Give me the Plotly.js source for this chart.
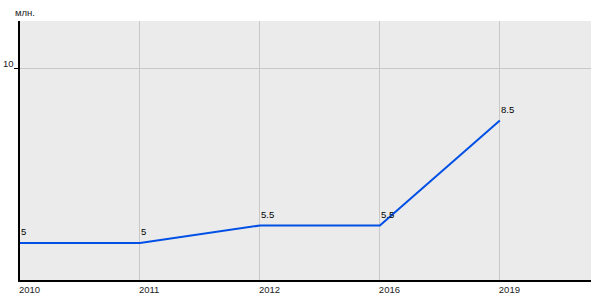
<!DOCTYPE html>
<html>
<head>
<meta charset="utf-8">
<script src="https://cdn.plot.ly/plotly-3.0.1.min.js"></script>
<style>html,body{margin:0;padding:0;background:#fff;}#chart{width:600px;height:300px;}</style>
</head>
<body>
<div id="chart"></div>
<script>
const years = ["2010", "2011", "2012", "2016", "2019"];
const values = [5, 5, 5.5, 5.5, 8.5];
const valueLabels = ["5", "5", "5.5", "5.5", "8.5"];
const yTickVals = [10];
const yTickText = ["10"];
const unitLabel = "млн.";

const FONT = "Liberation Sans, Arial, sans-serif";

const trace = {
  x: years,
  y: values,
  type: "scatter",
  mode: "lines",
  line: {color: "#0050e6", width: 2},
  hoverinfo: "skip"
};

const labelAnnotations = values.map((v, i) => ({
  x: i, y: v,
  xref: "x", yref: "y",
  text: valueLabels[i],
  xanchor: "left", yanchor: "bottom",
  xshift: -1, yshift: 4,
  showarrow: false,
  font: {family: FONT, size: 9.5, color: "#000"}
}));

const yTickAnnotations = yTickVals.map((v, i) => ({
  x: 0, y: v,
  xref: "paper", yref: "y",
  text: yTickText[i],
  xanchor: "right", yanchor: "bottom",
  xshift: -4, yshift: -3,
  showarrow: false,
  font: {family: FONT, size: 9.5, color: "#222"}
}));

const layout = {
  width: 600,
  height: 300,
  margin: {l: 20, r: 9, t: 21, b: 20},
  paper_bgcolor: "#ffffff",
  plot_bgcolor: "#ebebeb",
  showlegend: false,
  font: {family: FONT, size: 9.5, color: "#222"},
  xaxis: {
    type: "category",
    range: [0, 4.76],
    showgrid: true,
    gridcolor: "#c8c8c8",
    gridwidth: 1,
    showline: true,
    linecolor: "#000",
    linewidth: 2,
    ticks: "",
    ticklabelposition: "outside right",
    ticklabelshift: -2,
    tickfont: {size: 9.5, color: "#222"},
    zeroline: false,
    fixedrange: true
  },
  yaxis: {
    range: [3.943, 11.343],
    tickvals: yTickVals,
    ticktext: yTickText,
    showticklabels: false,
    showgrid: true,
    gridcolor: "#c8c8c8",
    gridwidth: 1,
    showline: true,
    linecolor: "#000",
    linewidth: 2,
    ticks: "outside",
    ticklen: 4,
    tickcolor: "#000",
    zeroline: false,
    fixedrange: true
  },
  annotations: [{
    text: unitLabel,
    xref: "paper", yref: "paper",
    x: 0, y: 1,
    xanchor: "left", yanchor: "bottom",
    xshift: -7, yshift: 1,
    showarrow: false,
    font: {family: FONT, size: 9.5, color: "#222"}
  }].concat(labelAnnotations, yTickAnnotations)
};

Plotly.newPlot("chart", [trace], layout, {displayModeBar: false, staticPlot: true});
</script>
</body>
</html>
